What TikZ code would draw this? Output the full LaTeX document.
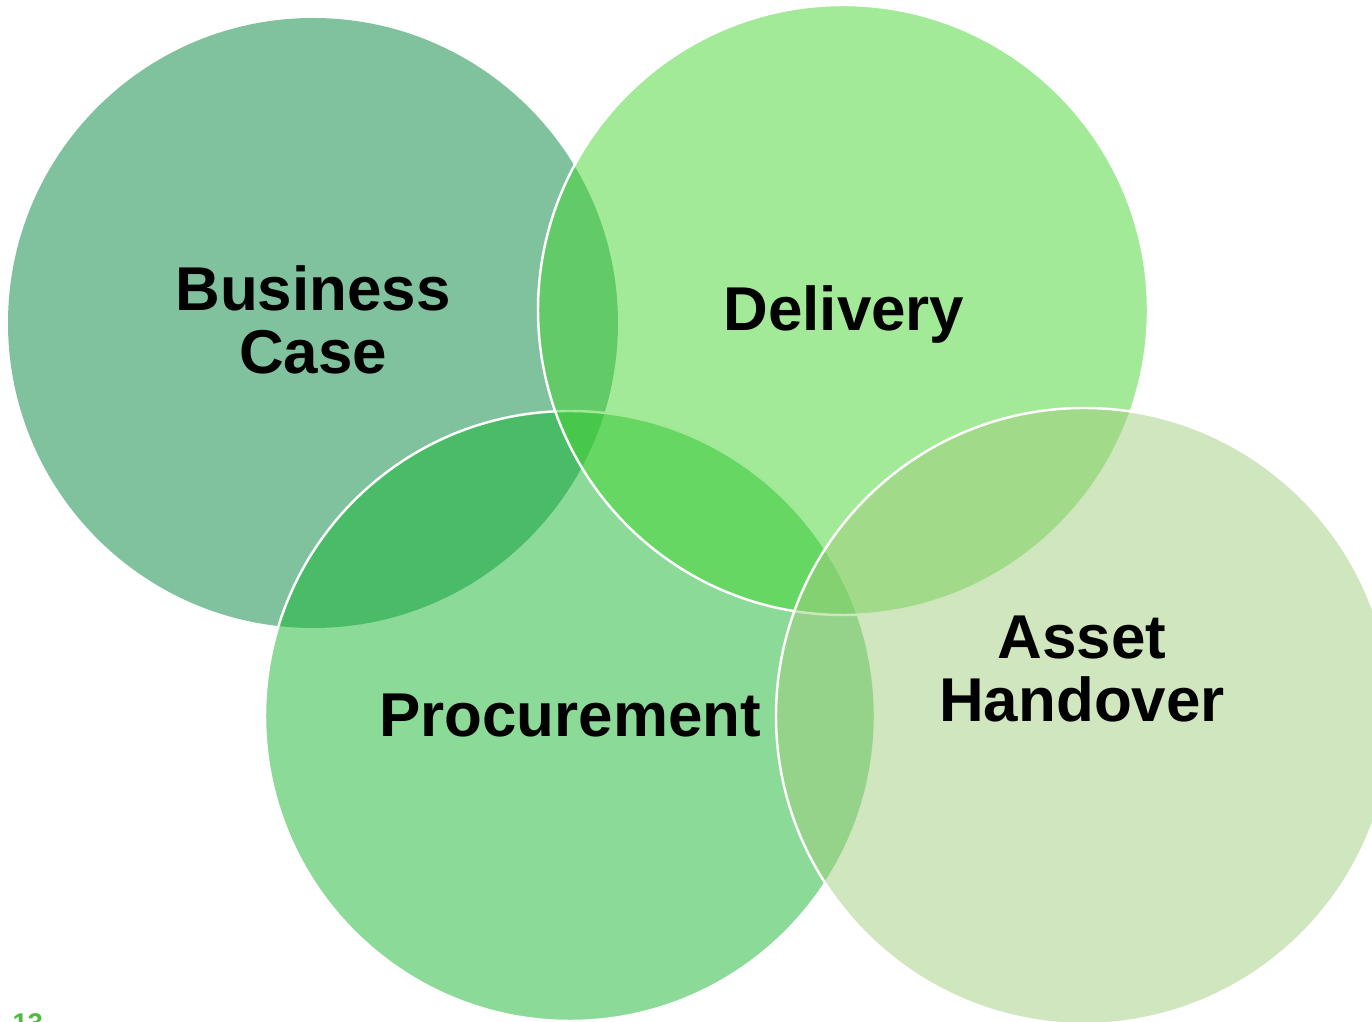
\documentclass[tikz,border=0pt]{standalone}
\usepackage{fontspec}
\setmainfont{Liberation Sans}
\usepackage{tikz}

\definecolor{bizgreen}{RGB}{1,133,61}
\definecolor{delgreen}{RGB}{69,213,49}
\definecolor{procgreen}{RGB}{23,181,49}
\definecolor{assetgreen}{RGB}{161,205,125}
\definecolor{pagegreen}{RGB}{76,187,62}

\begin{document}
\begin{tikzpicture}[x=0.01cm,y=-0.01cm,
	ring/.style={fill opacity=0.5, draw=white, line width=0.7pt},
	label/.style={font=\bfseries\fontsize{17.6}{18}\selectfont, align=center, inner sep=0}]
\useasboundingbox (0,0) rectangle (1372,1022);

\fill[bizgreen, fill opacity=0.5] (313,323) circle (305);
\filldraw[ring, fill=procgreen] (570,716) circle (305);
\filldraw[ring, fill=delgreen] (843,310) circle (305);
\filldraw[ring, fill=assetgreen] (1084,716) circle (308);

\node[label] (bizcase) at (313,320) {Business\\Case};
\node[label, anchor=base] (delivery) at (844,331) {Delivery};
\node[label, anchor=base] (procure) at (570,737) {Procurement};
\node[label] (handover) at (1082,669) {Asset\\Handover};

\node[font=\bfseries\fontsize{7.7}{9}\selectfont, text=pagegreen, anchor=base west, inner sep=0] (pagenum) at (12,1033) {13};
\end{tikzpicture}
\end{document}
